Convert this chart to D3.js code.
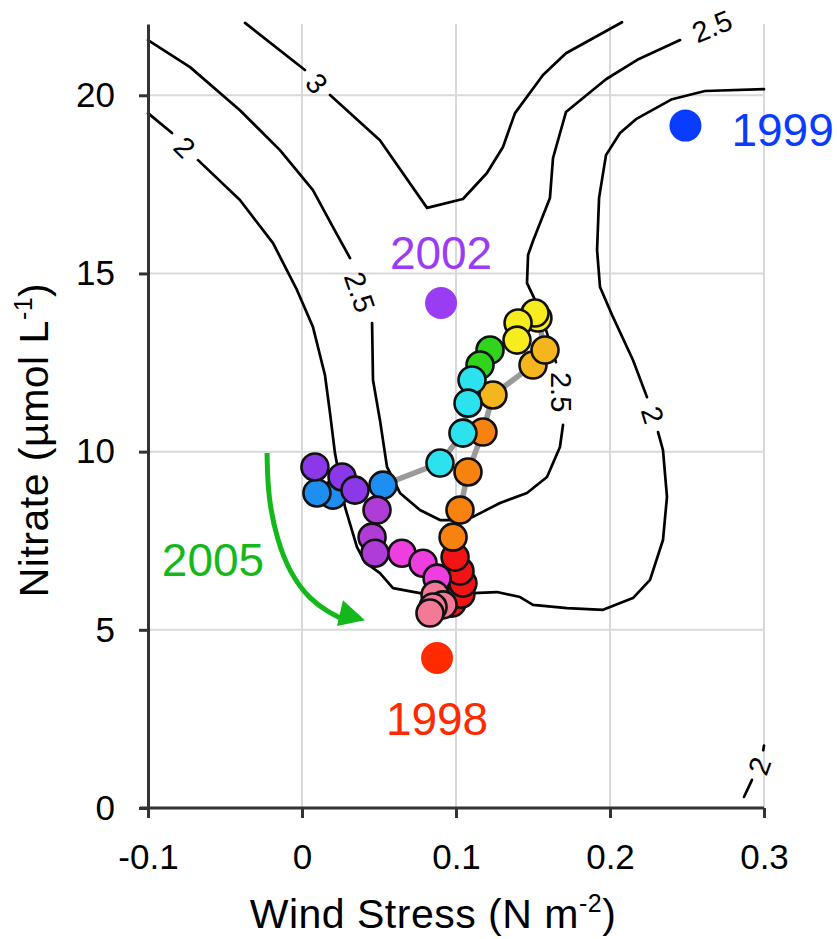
<!DOCTYPE html>
<html><head><meta charset="utf-8">
<script src="https://cdn.jsdelivr.net/npm/d3@7"></script>
<style>
html,body{margin:0;padding:0;background:#fff;}
text{font-family:"Liberation Sans",Arial,Helvetica,sans-serif;}
</style></head>
<body>
<script>
// ---------------- data ----------------
const xTicks = [-0.1, 0, 0.1, 0.2, 0.3];
const yTicks = [0, 5, 10, 15, 20];

// monthly trajectory (wind stress, nitrate)
const windStress = [0.0974,0.1032,0.1045,0.1026,0.0994, 0.0981,0.1026,0.1078,0.1175, 0.1240,0.1500,0.1578,
  0.1532,0.1513,0.1403,0.1396, 0.1221,0.1156, 0.1104,0.1078,0.1045,0.0896, 0.0526,0.0201,0.0097,
  0.0084,0.0260,0.0344, 0.0487,0.0455,0.0474, 0.0649,0.0786,0.0877, 0.0864,0.0916,0.0851,0.0831];
const nitrate = [5.75,6.00,6.31,6.65,7.04, 7.60,8.36,9.43,10.55, 11.59,12.43,12.85,
  13.75,13.89,13.61,13.13, 12.85,12.43, 12.01,11.36,10.52,9.68, 9.06,8.78,8.84,
  9.57,9.29,8.92, 8.36,7.60,7.15, 7.15,6.87,6.45, 5.98,5.70,5.64,5.47];
const dotColors = ["#f21414","#f21414","#f21414","#f21414","#f21414",
  "#f7820f","#f7820f","#f7820f","#f7820f","#f5b51c","#f5b51c","#f5b51c",
  "#f6ec1f","#f6ec1f","#f6ec1f","#f6ec1f","#30d41c","#30d41c",
  "#2be2ee","#2be2ee","#2be2ee","#2be2ee","#1e8ef0","#1e8ef0","#1e8ef0",
  "#8a38e8","#8a38e8","#8a38e8","#b03cd8","#b03cd8","#b03cd8",
  "#ee3ee0","#ee3ee0","#ee3ee0","#f27a96","#f27a96","#f27a96","#f27a96"];

// highlighted years
const yearNames = ["1999","2002","1998"];
const yearWind = [0.249, 0.0903, 0.0877];
const yearNitrate = [19.15, 14.17, 4.21];
const yearColors = ["#0a3cff","#9b3cf5","#ff2a00"];

// contour segments (wind stress, nitrate)
const contour2a = [[-0.1,19.50],[-0.0844,18.94]];
const contour2b = [[-0.0675,18.18],[-0.0403,17.06],[-0.0188,15.85],[-0.0032,14.53],[0.0071,13.50],[0.0149,12.15],
  [0.0182,11.08],[0.0214,9.96],[0.0279,8.45],[0.0357,7.32],[0.0409,6.90],[0.0506,6.59],[0.0591,6.17],[0.0766,6.03],
  [0.1110,6.03],[0.1266,6.06],[0.1416,5.92],[0.1500,5.70],[0.1721,5.61],[0.1955,5.56],[0.2149,5.89],[0.2260,6.40],
  [0.2344,7.52],[0.2370,8.73],[0.2344,10.04],[0.2312,10.55]];
const contour2c = [[0.2240,11.53],[0.2149,12.57],[0.2019,13.78],[0.1935,14.62],[0.1916,15.66],[0.1929,17.12],
  [0.1974,18.32],[0.2065,18.94],[0.2169,19.33],[0.2403,19.89],[0.2617,20.12],[0.3,20.17]];
const contour2d = [[0.287,0.31],[0.2922,0.79]];
const contour2e = [[0.2995,1.62],[0.3,1.75]];
const contour25a = [[-0.1,21.55],[-0.0727,20.79],[-0.0403,19.58],[-0.0143,18.46],[0.0071,17.34],[0.0201,16.30],[0.0312,15.43]];
const contour25b = [[0.0455,13.61],[0.0461,12.01],[0.0506,10.89],[0.0552,9.57],[0.0636,8.84],[0.0766,8.36],[0.0896,8.08],
  [0.1026,8.08],[0.1110,8.17],[0.1286,8.56],[0.1461,8.84],[0.1591,9.29],[0.1675,10.13],[0.1695,10.75]];
const contour25c = [[0.1649,12.51],[0.1545,13.97],[0.1461,14.73],[0.1468,15.52],[0.1500,15.91],[0.1610,17.12],
  [0.1630,18.24],[0.1714,19.53],[0.1974,20.45],[0.2188,21.02],[0.2455,21.55]];
const contour3a = [[-0.0370,22.03],[0.0019,20.71]];
const contour3b = [[0.0182,20.01],[0.0506,18.74],[0.0812,16.84],[0.1045,17.09],[0.1201,17.82],[0.1305,18.55],
  [0.1383,19.50],[0.1565,20.57],[0.1714,21.18],[0.2078,22.05]];
const contourSegments = [contour2a,contour2b,contour2c,contour2d,contour2e,contour25a,contour25b,contour25c,contour3a,contour3b];

const contourLabelText = ["2","2","2","2.5","2.5","2.5","3"];
const contourLabelWind = [-0.076,0.2279,0.2968,0.0377,0.1682,0.2662,0.0097];
const contourLabelNitrate = [18.55,11.03,1.18,14.48,11.67,21.94,20.34];
const contourLabelAngle = [45,73,-70,71,90,-22,50];

// 2005 arrow
const arrowPath = [[-0.0227,9.96],[-0.0221,8.73],[-0.0162,7.52],[-0.0078,6.59],[0.0052,5.84],[0.0182,5.47],[0.025,5.33]];
const arrowHead = [[0.0266,5.83],[0.0409,5.27],[0.0227,5.11]];

// ---------------- chart ----------------
const W = 837, H = 939;
const m = {left:148, right:73, top:24, bottom:131};
const svg = d3.select("body").append("svg").attr("width",W).attr("height",H);
const x = d3.scaleLinear().domain([-0.1,0.3]).range([m.left, W-m.right]);
const y = d3.scaleLinear().domain([0,22]).range([H-m.bottom, m.top]);

// grid
const g = svg.append("g");
g.selectAll(".hg").data(yTicks.filter(d=>d>0)).join("line")
  .attr("x1",x(-0.1)).attr("x2",x(0.3)).attr("y1",d=>y(d)).attr("y2",d=>y(d))
  .attr("stroke","#d9d9d9").attr("stroke-width",2);
g.selectAll(".vg").data(xTicks.filter(d=>d>-0.1)).join("line")
  .attr("y1",y(0)).attr("y2",y(22)).attr("x1",d=>x(d)).attr("x2",d=>x(d))
  .attr("stroke","#d9d9d9").attr("stroke-width",2);

// contours
const line = d3.line().x(d=>x(d[0])).y(d=>y(d[1]));
svg.append("g").selectAll("path").data(contourSegments).join("path")
  .attr("d",line).attr("fill","none").attr("stroke","#000").attr("stroke-width",2.7)
  .attr("stroke-linejoin","round").attr("stroke-linecap","round");
svg.append("g").selectAll("text").data(contourLabelText).join("text")
  .attr("transform",(d,i)=>`translate(${x(contourLabelWind[i])},${y(contourLabelNitrate[i])}) rotate(${contourLabelAngle[i]})`)
  .attr("text-anchor","middle").attr("dy","0.36em")
  .attr("font-size",29).attr("fill","#000").text(d=>d);

// trajectory
const pts = windStress.map((w,i)=>[w,nitrate[i]]);
svg.append("path").datum(pts).attr("d",line).attr("fill","none")
  .attr("stroke","#9a9a9a").attr("stroke-width",5.5);
svg.append("g").selectAll("circle").data(pts).join("circle")
  .attr("cx",d=>x(d[0])).attr("cy",d=>y(d[1])).attr("r",13.5)
  .attr("fill",(d,i)=>dotColors[i]).attr("stroke","#111").attr("stroke-width",2.6);

// year markers
svg.append("g").selectAll("circle").data(yearNames).join("circle")
  .attr("cx",(d,i)=>x(yearWind[i])).attr("cy",(d,i)=>y(yearNitrate[i])).attr("r",16)
  .attr("fill",(d,i)=>yearColors[i]);
const yearTextPos = [[x(yearWind[0])+46, y(yearNitrate[0])+20, "start"],
                     [x(yearWind[1]), y(yearNitrate[1])-34, "middle"],
                     [x(yearWind[2]), y(yearNitrate[2])+77, "middle"]];
svg.append("g").selectAll("text").data(yearNames).join("text")
  .attr("x",(d,i)=>yearTextPos[i][0]).attr("y",(d,i)=>yearTextPos[i][1])
  .attr("text-anchor",(d,i)=>yearTextPos[i][2])
  .attr("font-size",46).attr("fill",(d,i)=>yearColors[i]).text(d=>d);

// 2005 arrow
svg.append("path").datum(arrowPath).attr("d",d3.line().x(d=>x(d[0])).y(d=>y(d[1])).curve(d3.curveBasis))
  .attr("fill","none").attr("stroke","#14b81a").attr("stroke-width",5);
svg.append("path").datum(arrowHead).attr("d",d3.line().x(d=>x(d[0])).y(d=>y(d[1]))(arrowHead)+"Z")
  .attr("fill","#14b81a");
svg.append("text").attr("x",x(-0.0578)).attr("y",y(6.5)).attr("text-anchor","middle")
  .attr("font-size",46).attr("fill","#14b81a").text("2005");

// axes
const xAxis = d3.axisBottom(x).tickValues(xTicks).tickSize(10).tickSizeOuter(0).tickPadding(26)
  .tickFormat(d=>String(d));
const yAxis = d3.axisLeft(y).tickValues(yTicks).tickSize(9).tickSizeOuter(0).tickPadding(24)
  .tickFormat(d=>String(d));
const gx = svg.append("g").attr("transform",`translate(0,${y(0)})`).call(xAxis);
const gy = svg.append("g").attr("transform",`translate(${x(-0.1)},0)`).call(yAxis);
[gx,gy].forEach(a=>{
  a.select(".domain").attr("stroke","#333").attr("stroke-width",3);
  a.selectAll(".tick line").attr("stroke","#333").attr("stroke-width",3);
  a.selectAll(".tick text").attr("font-size",35).attr("fill","#000")
   .attr("font-family","'Liberation Sans',Arial,Helvetica,sans-serif");
});
gx.select(".domain").attr("d",`M${x(-0.1)-8},0H${x(0.3)}`);

// axis titles
const xt = svg.append("text").attr("x",433).attr("y",928).attr("text-anchor","middle")
  .attr("font-size",41).attr("fill","#000").attr("letter-spacing",0.5);
xt.append("tspan").text("Wind Stress (N m");
xt.append("tspan").attr("font-size",25).attr("dy",-16).text("-2");
xt.append("tspan").attr("dy",16).text(")");

const yt = svg.append("text").attr("transform","translate(48,440) rotate(-90)").attr("text-anchor","middle")
  .attr("font-size",41).attr("fill","#000").attr("letter-spacing",0.5);
yt.append("tspan").text("Nitrate (µmol L");
yt.append("tspan").attr("font-size",25).attr("dy",-16).text("-1");
yt.append("tspan").attr("dy",16).text(")");
</script>
</body></html>
